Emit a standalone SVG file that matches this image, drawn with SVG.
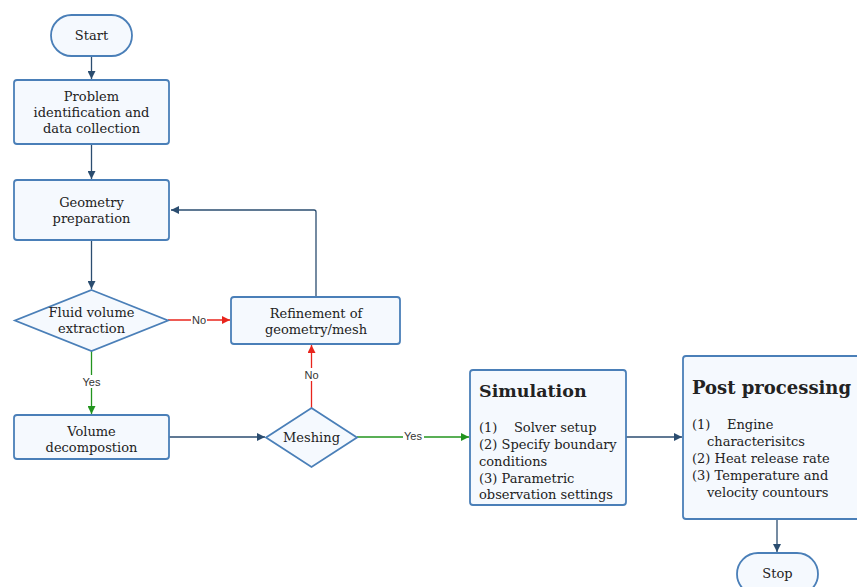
<svg xmlns="http://www.w3.org/2000/svg" width="857" height="587" viewBox="0 0 857 587">
<defs>
<style>
.n{fill:#f5f9fe;stroke:#4a7fb8;stroke-width:1.8}
.t{font-family:"DejaVu Serif","Liberation Serif",serif;font-size:13px;fill:#222;text-anchor:middle}
.tl{font-family:"DejaVu Serif","Liberation Serif",serif;font-size:13px;fill:#222;white-space:pre}
.h{font-family:"DejaVu Serif","Liberation Serif",serif;font-weight:bold;fill:#222}
.c{fill:none;stroke:#2b4d70;stroke-width:1.3}
.r{fill:none;stroke:#e8241c;stroke-width:1.3}
.g{fill:none;stroke:#22941e;stroke-width:1.3}
.lb{font-family:"Liberation Sans",Arial,sans-serif;font-size:11px;fill:#333;text-anchor:middle}
</style>
<marker id="ab" viewBox="0 0 10 10" refX="10" refY="5" markerWidth="8" markerHeight="8" markerUnits="userSpaceOnUse" orient="auto"><path d="M0,0L10,5L0,10z" fill="#2b4d70"/></marker>
<marker id="ar" viewBox="0 0 10 10" refX="10" refY="5" markerWidth="8" markerHeight="8" markerUnits="userSpaceOnUse" orient="auto"><path d="M0,0L10,5L0,10z" fill="#e8241c"/></marker>
<marker id="ag" viewBox="0 0 10 10" refX="10" refY="5" markerWidth="8" markerHeight="8" markerUnits="userSpaceOnUse" orient="auto"><path d="M0,0L10,5L0,10z" fill="#22941e"/></marker>
</defs>
<rect width="857" height="587" fill="#fff"/>
<g id="connectors">
<path class="c" d="M91.5,56V79" marker-end="url(#ab)"/>
<path class="c" d="M91.5,144V179" marker-end="url(#ab)"/>
<path class="c" d="M91.5,240V289" marker-end="url(#ab)"/>
<path class="c" d="M316,297V212Q316,210 314,210H171" marker-end="url(#ab)"/>
<path class="r" d="M168,320H230" marker-end="url(#ar)"/>
<rect x="191" y="313" width="16" height="13" fill="#fff"/>
<text class="lb" x="199" y="324">No</text>
<path class="g" d="M91.5,351V414" marker-end="url(#ag)"/>
<rect x="81" y="375" width="21" height="13" fill="#fff"/>
<text class="lb" x="91.5" y="386">Yes</text>
<path class="c" d="M169,437H265" marker-end="url(#ab)"/>
<path class="r" d="M311.5,408V345" marker-end="url(#ar)"/>
<rect x="303" y="368" width="17" height="13" fill="#fff"/>
<text class="lb" x="311.5" y="379">No</text>
<path class="g" d="M357,437H469" marker-end="url(#ag)"/>
<rect x="403" y="430" width="21" height="13" fill="#fff"/>
<text class="lb" x="413" y="440">Yes</text>
<path class="c" d="M626,437H682" marker-end="url(#ab)"/>
<path class="c" d="M777,519V552" marker-end="url(#ab)"/>
</g>
<g id="start"><rect class="n" x="51" y="15" width="81" height="41" rx="20.5"/><text class="t" x="91.5" y="40">Start</text></g>
<g id="problem"><rect class="n" x="14" y="80" width="155" height="64" rx="3"/><text class="t" x="91.5" y="101">Problem</text><text class="t" x="91.5" y="117">identification and</text><text class="t" x="91.5" y="133">data collection</text></g>
<g id="geometry"><rect class="n" x="14" y="180" width="155" height="60" rx="3"/><text class="t" x="91.5" y="207">Geometry</text><text class="t" x="91.5" y="223">preparation</text></g>
<g id="fluid"><path class="n" d="M91.5,290L168,320.5L91.5,351L15,320.5Z"/><text class="t" x="91.5" y="317">Fluid volume</text><text class="t" x="91.5" y="333">extraction</text></g>
<g id="refinement"><rect class="n" x="231" y="297" width="169" height="47" rx="3"/><text class="t" x="316" y="318">Refinement of</text><text class="t" x="316" y="334">geometry/mesh</text></g>
<g id="volume"><rect class="n" x="14" y="415" width="155" height="44" rx="3"/><text class="t" x="91.5" y="436">Volume</text><text class="t" x="91.5" y="452">decompostion</text></g>
<g id="meshing"><path class="n" d="M311.5,408L357,437.5L311.5,467L266,437.5Z"/><text class="t" x="311.5" y="442">Meshing</text></g>
<g id="simulation"><rect class="n" x="470" y="370" width="156" height="135" rx="3"/><text class="h" x="479" y="397" font-size="17.5">Simulation</text>
<text class="tl" x="479" y="432">(1)    Solver setup</text><text class="tl" x="479" y="449">(2) Specify boundary</text><text class="tl" x="479" y="466">conditions</text><text class="tl" x="479" y="483">(3) Parametric</text><text class="tl" x="479" y="499">observation settings</text></g>
<g id="post"><rect class="n" x="683" y="356" width="180" height="163" rx="3"/><text class="h" x="692" y="394" font-size="18">Post processing</text>
<text class="tl" x="692" y="429">(1)    Engine</text><text class="tl" x="707" y="446">characterisitcs</text><text class="tl" x="692" y="463">(2) Heat release rate</text><text class="tl" x="692" y="480">(3) Temperature and</text><text class="tl" x="707" y="497">velocity countours</text></g>
<g id="stop"><rect class="n" x="737" y="553" width="81" height="42" rx="21"/><text class="t" x="777.5" y="578">Stop</text></g>
</svg>
